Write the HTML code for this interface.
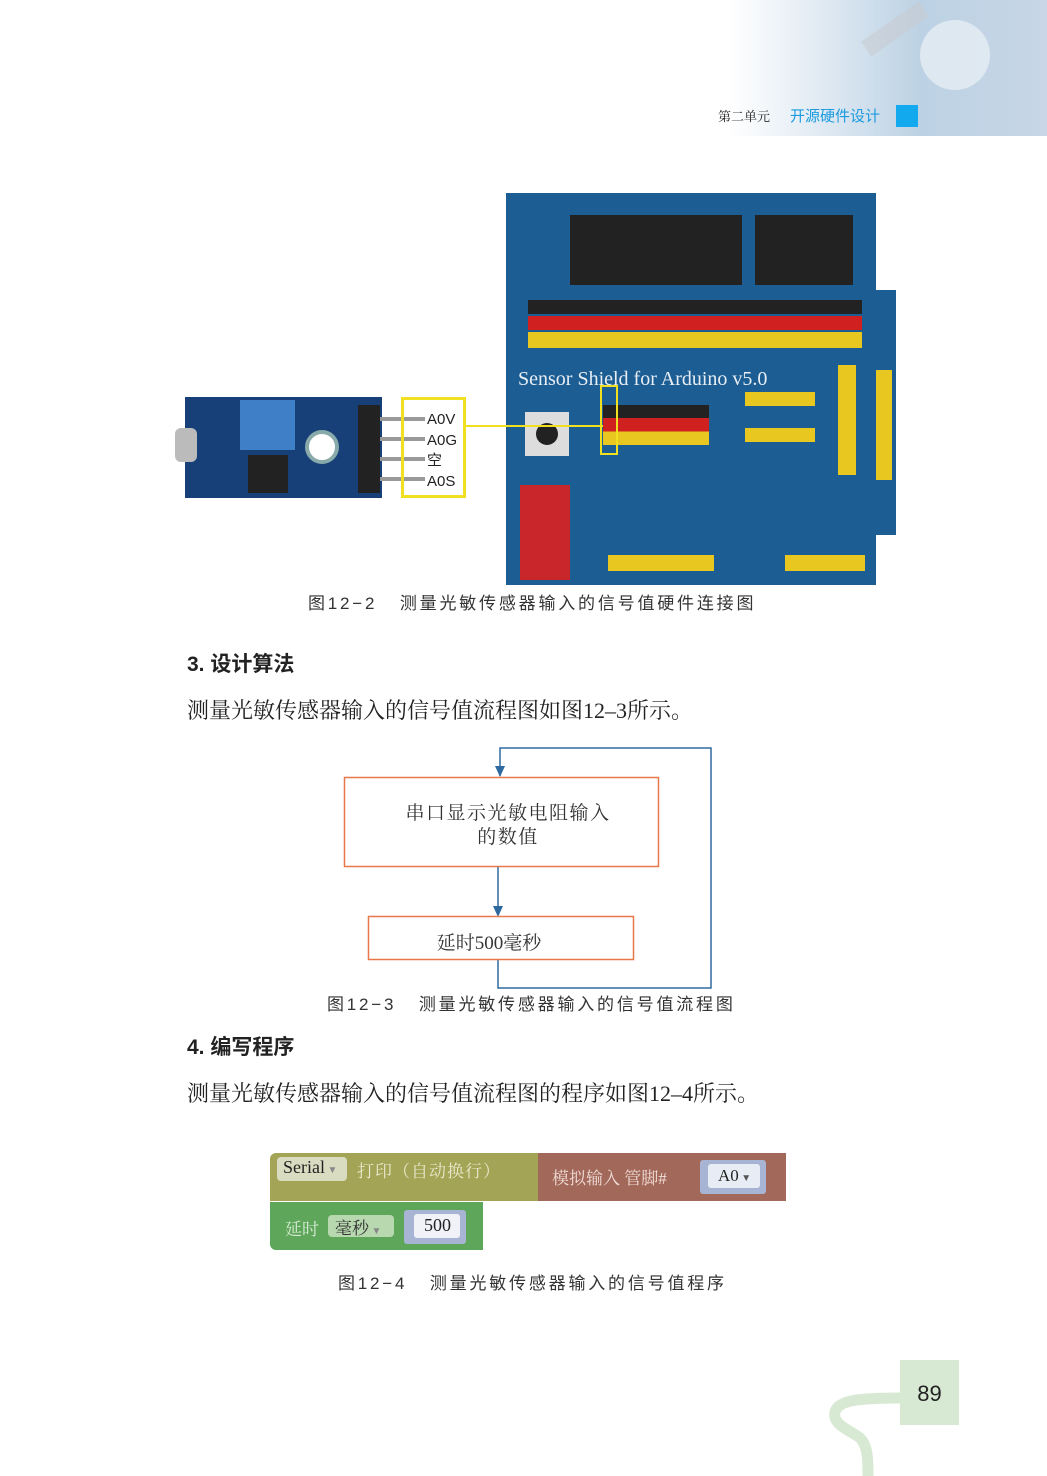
<!DOCTYPE html>
<html><head><meta charset="utf-8"><style>
body{margin:0;width:1047px;height:1476px;position:relative;background:#fff;font-family:"Liberation Serif","Noto Serif CJK SC",serif;overflow:hidden}
.a{position:absolute;white-space:nowrap}
.cap{font-family:"Liberation Sans","Noto Sans CJK SC",sans-serif;font-size:17px;color:#333;letter-spacing:2.8px}
.h{font-family:"Liberation Sans","Noto Sans CJK SC",sans-serif;font-size:21px;font-weight:bold;color:#222}
.p{font-size:22px;color:#222}
</style></head><body>
<div class="a" style="left:730px;top:0;width:317px;height:136px;background:linear-gradient(90deg,#fff 0%,#dfe9f2 30%,#bcd2e4 60%,#c8d6e6 100%)"></div>
<div class="a" style="left:860px;top:20px;width:70px;height:18px;background:#c8ccd2;opacity:.6;transform:rotate(-35deg)"></div>
<div class="a" style="left:920px;top:20px;width:70px;height:70px;border-radius:50%;background:#e6eef4;opacity:.8"></div>
<div class="a" style="left:718px;top:106px;font-size:13px;color:#222">第二单元</div>
<div class="a" style="left:790px;top:105px;font-size:15px;color:#1a9be0;font-family:'Liberation Sans','Noto Sans CJK SC',sans-serif">开源硬件设计</div>
<div class="a" style="left:896px;top:105px;width:22px;height:22px;background:#12a9ee"></div>

<!-- arduino board -->
<div class="a" style="left:506px;top:193px;width:370px;height:392px;background:#1c5e93"></div>
<div class="a" style="left:870px;top:290px;width:26px;height:245px;background:#1c5e93"></div>
<div class="a" style="left:570px;top:215px;width:172px;height:70px;background:#222"></div>
<div class="a" style="left:755px;top:215px;width:98px;height:70px;background:#222"></div>
<div class="a" style="left:528px;top:300px;width:334px;height:14px;background:#222"></div>
<div class="a" style="left:528px;top:316px;width:334px;height:14px;background:#d02020"></div>
<div class="a" style="left:528px;top:332px;width:334px;height:16px;background:#e8c820"></div>
<div class="a" style="left:603px;top:405px;width:106px;height:40px;background:linear-gradient(#222 0 33%,#d02020 33% 66%,#e8c820 66%)"></div>
<div class="a" style="left:838px;top:365px;width:18px;height:110px;background:#e8c820"></div>
<div class="a" style="left:876px;top:370px;width:16px;height:110px;background:#e8c820"></div>
<div class="a" style="left:745px;top:392px;width:70px;height:14px;background:#e8c820"></div>
<div class="a" style="left:745px;top:428px;width:70px;height:14px;background:#e8c820"></div>
<div class="a" style="left:608px;top:555px;width:106px;height:16px;background:#e8c820"></div>
<div class="a" style="left:785px;top:555px;width:80px;height:16px;background:#e8c820"></div>
<div class="a" style="left:525px;top:412px;width:44px;height:44px;background:#ddd"></div>
<div class="a" style="left:536px;top:423px;width:22px;height:22px;border-radius:50%;background:#222"></div>
<div class="a" style="left:520px;top:485px;width:50px;height:95px;background:#c8262a"></div>
<div class="a" style="left:518px;top:368px;font-size:20px;color:#e8eef4">Sensor Shield for Arduino v5.0</div>
<div class="a" style="left:600px;top:385px;width:14px;height:66px;border:2px solid #f0e020"></div>

<!-- sensor module -->
<div class="a" style="left:185px;top:397px;width:197px;height:101px;background:#173f78"></div>
<div class="a" style="left:175px;top:428px;width:22px;height:34px;background:#bbb;border-radius:6px"></div>
<div class="a" style="left:240px;top:400px;width:55px;height:50px;background:#3f7fc8"></div>
<div class="a" style="left:248px;top:455px;width:40px;height:38px;background:#222"></div>
<div class="a" style="left:305px;top:430px;width:26px;height:26px;border-radius:50%;background:#fff;border:4px solid #8aa"></div>
<div class="a" style="left:358px;top:405px;width:22px;height:88px;background:#222"></div>
<div class="a" style="left:380px;top:417px;width:45px;height:4px;background:#999"></div>
<div class="a" style="left:380px;top:437px;width:45px;height:4px;background:#999"></div>
<div class="a" style="left:380px;top:457px;width:45px;height:4px;background:#999"></div>
<div class="a" style="left:380px;top:477px;width:45px;height:4px;background:#999"></div>
<div class="a" style="left:401px;top:397px;width:59px;height:95px;border:3px solid #f0e020"></div>
<div class="a" style="left:463px;top:425px;width:140px;height:2px;background:#f0e020"></div>
<div class="a" style="left:427px;top:410px;font-size:15px;line-height:20.5px;font-family:'Liberation Sans','Noto Sans CJK SC',sans-serif;color:#222">A0V<br>A0G<br>空<br>A0S</div>

<div class="a cap" style="left:308px;top:589px">图12−2&nbsp;&nbsp;&nbsp;测量光敏传感器输入的信号值硬件连接图</div>
<div class="a h" style="left:187px;top:648px">3. 设计算法</div>
<div class="a p" style="left:187px;top:694px">测量光敏传感器输入的信号值流程图如图12–3所示。</div>

<svg class="a" style="left:0;top:0" width="1047" height="1476">
<polyline points="500,776 500,748 711,748 711,988 498,988 498,960" fill="none" stroke="#2e6aa0" stroke-width="1.5"/>
<polygon points="495,766 505,766 500,777" fill="#2e6aa0"/>
<line x1="498" y1="867" x2="498" y2="910" stroke="#2e6aa0" stroke-width="1.5"/>
<polygon points="493,906 503,906 498,917" fill="#2e6aa0"/>
<rect x="344.5" y="777.5" width="314" height="89" fill="#fff" stroke="#e8784a" stroke-width="1.5"/>
<rect x="368.5" y="916.5" width="265" height="43" fill="#fff" stroke="#e8784a" stroke-width="1.5"/>
</svg>
<div class="a" style="left:330px;top:802px;width:356px;text-align:center;font-size:19px;line-height:24px;color:#333;letter-spacing:1.5px">串口显示光敏电阻输入<br>的数值</div>
<div class="a" style="left:368px;top:928px;width:242px;text-align:center;font-size:19px;color:#333">延时500毫秒</div>
<div class="a cap" style="left:327px;top:990px">图12−3&nbsp;&nbsp;&nbsp;测量光敏传感器输入的信号值流程图</div>
<div class="a h" style="left:187px;top:1031px">4. 编写程序</div>
<div class="a p" style="left:187px;top:1077px">测量光敏传感器输入的信号值流程图的程序如图12–4所示。</div>

<!-- blocks -->
<div class="a" style="left:270px;top:1153px;width:268px;height:48px;background:#a4a456;border-radius:6px 0 0 0"></div>
<div class="a" style="left:538px;top:1153px;width:248px;height:48px;background:#a2685a"></div>
<div class="a" style="left:270px;top:1202px;width:213px;height:48px;background:#5ea65a;border-radius:0 0 0 6px"></div>
<div class="a" style="left:277px;top:1157px;width:70px;height:24px;background:#d9dcc0;border-radius:4px"></div>
<div class="a" style="left:283px;top:1157px;font-size:18px;color:#222">Serial<span style="font-size:10px;color:#888"> ▼</span></div>
<div class="a" style="left:357px;top:1157px;font-size:17px;color:#e8e8cc;letter-spacing:1px">打印（自动换行）</div>
<div class="a" style="left:552px;top:1164px;font-size:17px;color:#f0dcd6">模拟输入 管脚#</div>
<div class="a" style="left:700px;top:1160px;width:66px;height:34px;background:#a8b4d4;border-radius:3px"></div>
<div class="a" style="left:708px;top:1164px;width:52px;height:24px;background:#e8ecf4;border-radius:3px"></div>
<div class="a" style="left:718px;top:1166px;font-size:17px;color:#222">A0<span style="font-size:10px;color:#555"> ▼</span></div>
<div class="a" style="left:285px;top:1215px;font-size:17px;color:#d8ecd6">延时</div>
<div class="a" style="left:328px;top:1215px;width:66px;height:22px;background:#b8d8b0;border-radius:4px"></div>
<div class="a" style="left:335px;top:1214px;font-size:17px;color:#333">毫秒<span style="font-size:10px;color:#888"> ▼</span></div>
<div class="a" style="left:404px;top:1210px;width:62px;height:34px;background:#a8b4d4;border-radius:3px"></div>
<div class="a" style="left:414px;top:1214px;width:46px;height:24px;background:#f0f2f8;border-radius:3px"></div>
<div class="a" style="left:424px;top:1215px;font-size:18px;color:#222">500</div>
<div class="a cap" style="left:338px;top:1269px">图12−4&nbsp;&nbsp;&nbsp;测量光敏传感器输入的信号值程序</div>

<svg class="a" style="left:0;top:0" width="1047" height="1476">
<path d="M900,1398 C860,1398 838,1400 835,1412 C832,1425 850,1430 860,1438 C868,1446 868,1460 868,1476" fill="none" stroke="#d8e9d3" stroke-width="11"/>
</svg>
<div class="a" style="left:900px;top:1360px;width:59px;height:65px;background:#d8e9d3"></div>
<div class="a" style="left:900px;top:1381px;width:59px;text-align:center;font-family:'Liberation Sans',sans-serif;font-size:22px;color:#222">89</div>
</body></html>
